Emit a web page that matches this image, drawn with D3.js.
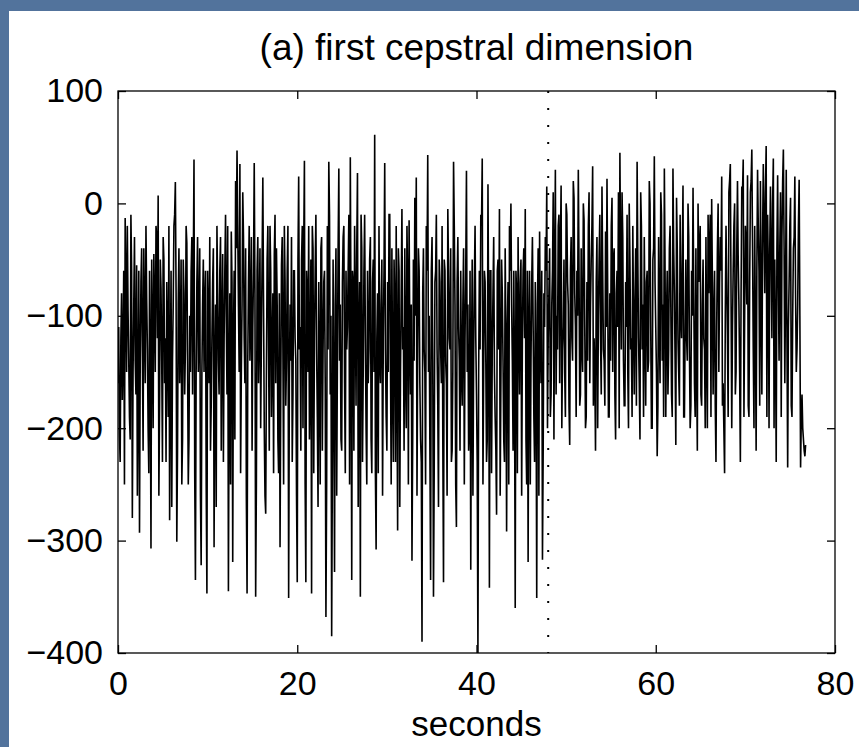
<!DOCTYPE html>
<html>
<head>
<meta charset="utf-8">
<script src="https://cdn.jsdelivr.net/npm/d3@7"></script>
<style>
  html, body { margin: 0; padding: 0; background: #52739c; }
  svg { display: block; }
  text { font-family: "Liberation Sans", Arial, sans-serif; fill: #000; }
</style>
</head>
<body>
<div id="app"></div>
<script>
// first cepstral coefficient.
// segN holds the frames at even 0.08 s steps, oddN the frames in between.
const frameStep = 0.08;
const seg1 = [-160,-205,-120,-175,-60,-13,-150,-95,-190,-10,-280,-90,-140,-55,-170,-293,-70,-130,-40,-160,
  -85,-200,-60,-307,-110,-45,-150,-30,7,-180,-75,-230,-50,-120,-70,-190,-282,-60,-140,-20,
  19,-301,-90,-160,-50,-210,-80,-130,-35,-250,-100,-60,-170,39,-335,-70,-150,-40,-322,-90];
const odd1 = [-110,-230,-80,-130,-250,-70,-20,-140,-210,-60,-150,-30,-170,-260,-60,-140,-40,-220,-100,-20,
  -130,-240,-140,-50,-200,-90,-20,-120,-260,-50,-140,-30,-160,-230,-120,-20,-150,-270,-90,-10,
  -80,-220,-40,-120,-250,-50,-170,-20,-140,-210,-150,-30,-60,-240,-150,-30,-110,-260,-150,-50];
const seg2 = [-150,-60,-347,-100,-30,-180,-70,-306,-90,-20,-140,-60,-220,-45,-120,-10,-170,-345,-80,-25,
  -319,-60,20,47,-90,35,-150,10,-120,-40,-347,-70,-140,-30,-110,36,-350,-60,-160,-40,
  -120,23,-200,-276,-50,-130,-20,-190,-80,-45,-160,-90,-240,-306,-55,-130,-20,-180,-60,-351];
const odd2 = [-90,-250,-60,-160,-220,-120,-40,-150,-270,-80,-170,-30,-110,-230,-60,-100,-20,-160,-250,-70,
  -120,-210,-40,-20,-150,-240,-90,-30,-160,-260,-140,-20,-100,-220,-60,-80,-250,-30,-110,-200,
  -50,-90,-260,-150,-20,-220,-60,-130,-240,-10,-40,-210,-80,-170,-30,-250,-70,-140,-20,-160];
const seg3 = [-90,-30,-170,-60,-140,-337,24,-110,-50,-200,38,-337,-80,-20,-150,-347,-40,-120,-10,-190,
  -70,-250,-30,-130,-60,-368,-20,37,-170,-385,-50,-328,-40,-140,31,-90,-220,-30,-160,-60,
  -110,-10,41,-335,-70,-20,-180,27,-120,-350,-40,-150,-10,-200,-60,-130,-30,-240,-50,61];
const odd3 = [-140,-230,-60,-120,-260,-50,-130,-220,-20,-40,-250,-60,-150,-210,-50,-20,-240,-60,-130,-270,
  -150,-40,-220,-70,-160,-250,-130,-10,-100,-230,-170,-90,-260,-40,-140,-210,-70,-20,-240,-130,
  -60,-250,-110,-60,-220,-90,-40,-270,-70,-10,-230,-60,-120,-250,-160,-50,-210,-70,-150,-240];
const seg4 = [-308,-80,-20,-160,-50,-120,36,-190,-70,-10,-140,-40,-230,-90,-20,-291,-60,-150,-5,-110,
  -40,-200,-70,-15,-170,-318,-50,5,23,-130,-60,-210,-390,-40,-150,-20,43,-100,-335,-30,
  -350,-70,-10,-180,-50,-130,-20,-337,-60,-160,-5,-120,-40,-220,37,-90,-288,-30,-140,-60];
const odd4 = [-120,-240,-140,-90,-260,-60,-130,-220,-150,-10,-250,-160,-50,-230,-150,-40,-270,-80,-130,-220,
  -150,-20,-250,-120,-90,-210,-140,-100,-260,-40,-160,-230,-80,-130,-250,-60,-150,-220,-60,-140,
  -240,-60,-130,-270,-70,-160,-210,-50,-140,-260,-60,-130,-230,-150,-20,-250,-70,-110,-220,-150];
const seg5 = [-180,-40,-120,29,-90,-200,-326,-50,-140,-20,-170,-400,-60,-10,40,-150,-70,-230,17,-342,
  -60,-130,-30,-190,-277,-50,-5,-160,-80,-210,-40,-292,-70,-20,0,-140,-60,-360,-80,-30,
  -170,-50,-120,-40,-5,-250,-319,-60,-140,-30,-190,-70,-351,-40,-25,-160,-317,-80,-30,15];
const odd5 = [-90,-250,-60,-150,-220,-60,-140,-260,-70,-120,-230,-150,-130,-20,-250,-60,-140,-210,-110,-60,
  -240,-80,-150,-220,-60,-130,-260,-50,-140,-230,-120,-110,-250,-60,-90,-220,-150,-60,-240,-110,
  -70,-260,-60,-120,-210,-60,-110,-250,-70,-110,-230,-140,-90,-260,-120,-60,-220,-110,-60,-200];
const seg6 = [-120,-40,-170,-60,-210,30,-100,-20,-160,16,-130,-50,-190,-10,-90,-215,-30,-140,5,-110,
  -60,30,-180,-40,-150,-15,-200,-70,-20,-160,-50,33,-120,-220,-30,-100,-10,-170,-60,-140,
  -25,22,-190,-80,-20,-150,-40,-210,-60,10,45,-130,-30,-180,-70,-10,-200,-50,-120,-20];
const odd6 = [-80,-190,-90,10,-60,-170,-130,-10,-40,-200,-110,-150,0,-70,-180,-60,-120,20,-80,-190,
  -100,-60,-170,-130,0,-110,-190,-140,10,-90,-20,-180,-150,-70,-200,-50,-120,15,-130,-180,
  -110,-80,-190,-140,5,-50,-170,-80,-110,-200,-50,10,-140,-180,-110,-150,0,-130,-190,-100];
const seg7 = [-170,-40,37,-120,-210,-20,-90,-30,-180,-60,-140,0,-200,-50,42,-110,-225,-30,-160,-10,
  -90,31,-190,-60,-130,-20,-170,31,-80,-215,-40,-150,-10,-120,16,-190,-50,-140,-30,-200,
  -60,14,-160,-40,-220,-70,-20,-180,-50,-130,-30,-200,-80,-10,4,-170,-60,-230,-40,-150];
const odd7 = [-90,-180,-50,-160,10,-130,-190,-110,-70,-150,20,-110,-200,-40,-70,-150,-180,-110,10,-140,
  -190,-60,-100,-170,-40,-90,-190,-40,-140,5,-120,-180,-100,-50,-190,-110,-120,0,-130,-180,
  -100,-80,-190,-150,0,-40,-170,-90,-120,-200,-130,-10,-40,-190,-70,-100,-180,-110,0,-70];
const seg8 = [-30,24,-160,-240,-20,-120,10,35,-200,-60,0,-150,20,-90,-230,15,39,-100,-40,25,
  -190,10,48,-130,-20,-220,30,-60,20,-170,35,-80,51,-10,-200,15,-120,40,-50,-230,
  25,-140,10,-30,48,-160,30,-235,-70,5,-190,-40,24,-150,-90,21,-235,-170,-210,-225];
const odd8 = [-60,-180,-200,-100,-70,-190,20,-80,-110,-20,-170,-40,-50,-150,-80,10,-190,-20,-90,-180,
  -70,20,-40,-200,-110,-60,-20,-180,-80,-30,-20,10,-190,-60,-40,-50,0,-200,-120,-40,
  -70,-40,-190,20,-40,-80,-120,-110,-20,-180,-100,-30,-80,-130,-20,-100,-190,-200,-220,-215];

const xTicks = [0, 20, 40, 60, 80];
const yTicks = [100, 0, -100, -200, -300, -400];
const boundary = 48;

const evens = [seg1, seg2, seg3, seg4, seg5, seg6, seg7, seg8];
const odds = [odd1, odd2, odd3, odd4, odd5, odd6, odd7, odd8];
const values = [];
evens.forEach((s, k) => s.forEach((v, i) => values.push(v, odds[k][i])));
const series = values.map((v, i) => ({ t: i * frameStep, v: v }));

const W = 859, H = 747;
const plotL = 118, plotR = 835, plotT = 91, plotB = 653;

const svg = d3.select("#app").append("svg")
  .attr("width", W)
  .attr("height", H);

// slide background + white panel
svg.append("rect").attr("width", W).attr("height", H).attr("fill", "#52739c");
svg.append("rect").attr("x", 9).attr("y", 11).attr("width", W - 9).attr("height", H - 11).attr("fill", "#fff");

const x = d3.scaleLinear().domain([0, 80]).range([plotL, plotR]);
const y = d3.scaleLinear().domain([-400, 100]).range([plotB, plotT]);

svg.append("clipPath").attr("id", "plotclip")
  .append("rect")
  .attr("x", plotL).attr("y", plotT)
  .attr("width", plotR - plotL).attr("height", plotB - plotT);

// signal
const line = d3.line().x(d => x(d.t)).y(d => y(d.v));
svg.append("path")
  .datum(series)
  .attr("clip-path", "url(#plotclip)")
  .attr("fill", "none")
  .attr("stroke", "#000")
  .attr("stroke-width", 1.6)
  .attr("stroke-linejoin", "miter")
  .attr("d", line);

// dotted boundary
svg.append("line")
  .attr("x1", x(boundary)).attr("x2", x(boundary))
  .attr("y1", y(100)).attr("y2", y(-400))
  .attr("stroke", "#000")
  .attr("stroke-width", 2)
  .attr("stroke-dasharray", "2,15");

// axes, ticks pointing inward on all four sides
const fmt = d3.format("d");
const styleAxis = g => {
  g.select(".domain").remove();
  g.selectAll(".tick line").attr("stroke", "#000").attr("stroke-width", 1.3);
  g.selectAll(".tick text").attr("font-size", 34).attr("fill", "#000")
    .attr("font-family", "'Liberation Sans', Arial, sans-serif");
};

svg.append("g")
  .attr("transform", `translate(0,${plotB})`)
  .call(d3.axisBottom(x).tickValues(xTicks).tickFormat(fmt).tickSizeInner(-8).tickSizeOuter(0).tickPadding(18))
  .call(styleAxis);

svg.append("g")
  .attr("transform", `translate(0,${plotT})`)
  .call(d3.axisTop(x).tickValues(xTicks).tickFormat("").tickSizeInner(-8).tickSizeOuter(0))
  .call(styleAxis);

svg.append("g")
  .attr("transform", `translate(${plotL},0)`)
  .call(d3.axisLeft(y).tickValues(yTicks).tickFormat(fmt).tickSizeInner(-8).tickSizeOuter(0).tickPadding(15))
  .call(styleAxis);

svg.append("g")
  .attr("transform", `translate(${plotR},0)`)
  .call(d3.axisRight(y).tickValues(yTicks).tickFormat("").tickSizeInner(-8).tickSizeOuter(0))
  .call(styleAxis);

// frame
svg.append("rect")
  .attr("x", plotL).attr("y", plotT)
  .attr("width", plotR - plotL).attr("height", plotB - plotT)
  .attr("fill", "none")
  .attr("stroke", "#000")
  .attr("stroke-width", 1.3);

// title and axis label
svg.append("text")
  .attr("x", (plotL + plotR) / 2)
  .attr("y", 60)
  .attr("text-anchor", "middle")
  .attr("font-size", 37)
  .text("(a) first cepstral dimension");

svg.append("text")
  .attr("x", (plotL + plotR) / 2)
  .attr("y", 736)
  .attr("text-anchor", "middle")
  .attr("font-size", 35)
  .text("seconds");
</script>
</body>
</html>
